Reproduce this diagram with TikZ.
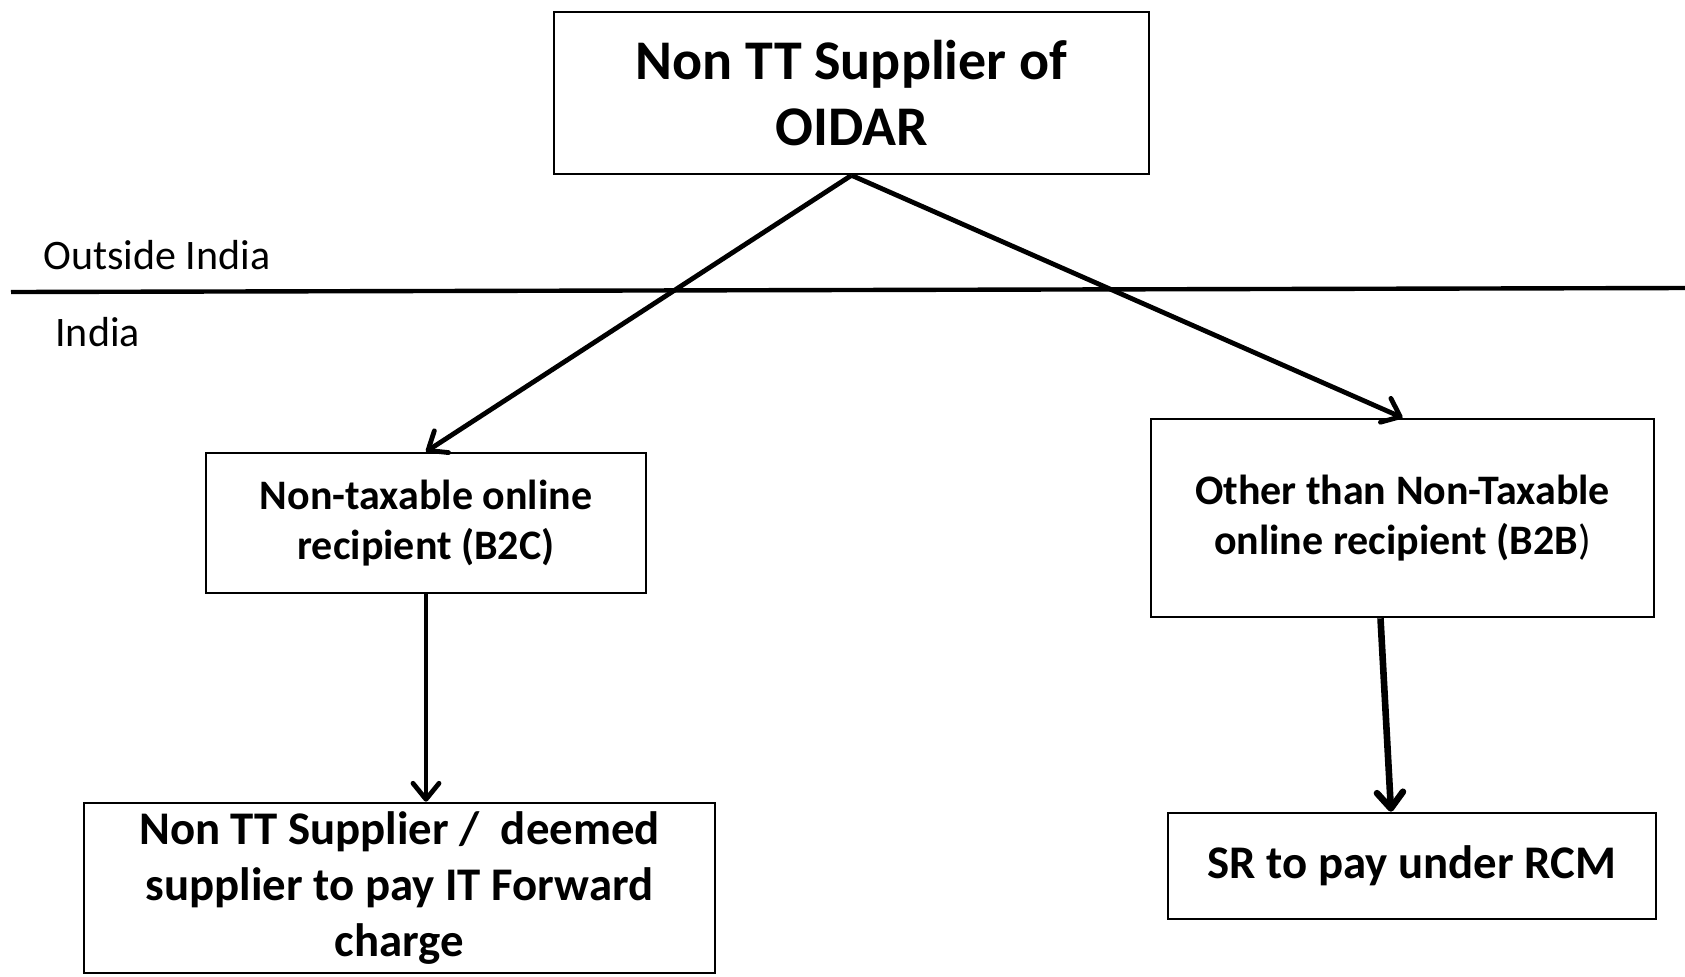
\documentclass[tikz,border=0pt]{standalone}
\usepackage{fontspec}
\setmainfont{Carlito}
\usepackage{tikz}
\usetikzlibrary{arrows.meta,positioning,calc}
\tikzset{
  blk/.style    = {draw, line width=1.3pt, align=center, inner sep=2pt, font=\bfseries},
  topblk/.style = {blk, minimum width=297.5pt, minimum height=81pt,
                   font=\fontsize{28}{33}\selectfont\bfseries},
  midblk/.style = {blk, font=\fontsize{21}{25}\selectfont\bfseries},
  endblk/.style = {blk, font=\fontsize{23.4}{28}\selectfont\bfseries},
  ar/.style     = {-{Straight Barb[length=8pt,width=13pt,round]}, line width=2.4pt},
  arb/.style    = {-{Straight Barb[length=8pt,width=13pt,round]}, line width=3.3pt},
  lbl/.style    = {font=\fontsize{21}{25}\selectfont, anchor=west, inner sep=0pt}
}

\begin{document}
\begin{tikzpicture}[x=0.5pt, y=-0.5pt]
\useasboundingbox (0,0) rectangle (1685,976);
% ---- supplier box ----
\node[topblk] (sup) at (851.5,93) {Non TT Supplier of\\ OIDAR};

% ---- border between outside india and india ----
\coordinate (bl) at (11,292);
\coordinate (br) at (1685,288);
\draw[line width=2.2pt] (bl) -- (br);
\node[lbl] (out) at (43,255) {Outside India};
\node[lbl] (ind) at (55,332) {India};

% ---- recipients ----
\node[midblk, minimum width=220pt, minimum height=70pt] (b2c) at (426,523)
  {Non-taxable online\\ recipient (B2C)};
\node[midblk, minimum width=251.5pt, minimum height=99pt] (b2b) at (1402.5,518)
  {Other than Non-Taxable\\ online recipient (B2B{\mdseries)}};

% ---- who pays ----
\node[endblk, minimum width=315.5pt, minimum height=85pt] (fwd) at (399.5,888)
  {Non TT Supplier /\ \ deemed\\ supplier to pay IT Forward\\ charge};
\node[endblk, minimum width=244pt, minimum height=53pt] (rcm) at (1412,866)
  {SR to pay under RCM};

% ---- arrows ----
\draw[ar] (sup.south) -- (b2c.north);
\draw[ar] (sup.south) -- (b2b.north);
\draw[ar] (b2c.south) -- (b2c.south |- fwd.north);
\draw[arb] ([xshift=-11pt]b2b.south) -- ([xshift=-10.5pt]rcm.north);
\end{tikzpicture}
\end{document}
